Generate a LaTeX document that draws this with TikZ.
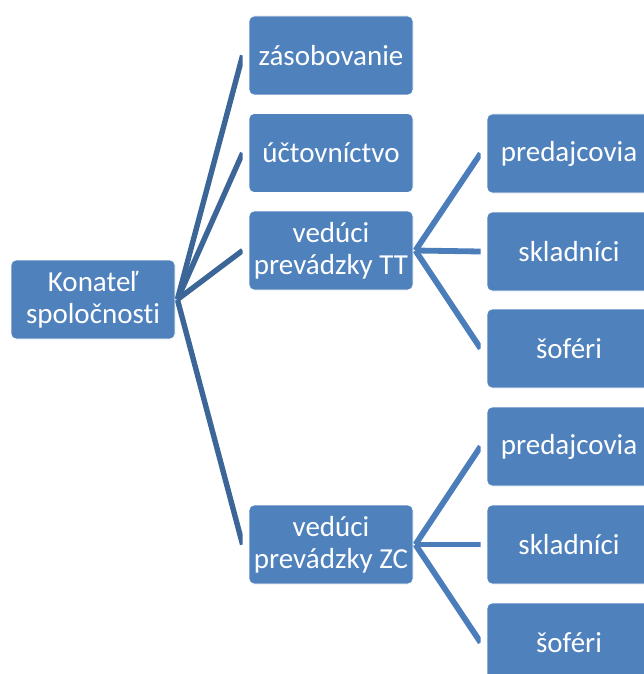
\documentclass[tikz,border=0pt]{standalone}
\usepackage{fontspec}
\setmainfont{Carlito}[Ligatures={NoCommon}]
\definecolor{boxblue}{HTML}{4F81BD}
\definecolor{lineA}{HTML}{3C6698}
\definecolor{lineB}{HTML}{4A7DBA}
\begin{document}
\begin{tikzpicture}[x=1pt,y=-1pt,
  orgbox/.style={rectangle, rounded corners=5pt, fill=boxblue, draw=white, line width=0.8pt,
    minimum width=164pt, minimum height=79pt, inner sep=0pt, align=center, text=white,
    font=\fontsize{29}{32}\selectfont},
  linkA/.style={draw=lineA, line width=5.4pt},
  linkB/.style={draw=lineB, line width=5.8pt}]
\useasboundingbox (0,0) rectangle (644,674);
\node[orgbox] (k) at (93,299.5) {Konateľ\\spoločnosti};
\node[orgbox] (z) at (331,55.5) {zásobovanie};
\node[orgbox] (u) at (331,153) {účtovníctvo};
\node[orgbox] (tt) at (331,250.5) {vedúci\\prevádzky TT};
\node[orgbox] (zc) at (331,544.5) {vedúci\\prevádzky ZC};
\node[orgbox] (p1) at (569,153.5) {predajcovia};
\node[orgbox] (s1) at (569,251.5) {skladníci};
\node[orgbox] (f1) at (569,348.5) {šoféri};
\node[orgbox] (p2) at (569,446.5) {predajcovia};
\node[orgbox] (s2) at (569,544.5) {skladníci};
\node[orgbox] (f2) at (569,642.5) {šoféri};
\coordinate (kz) at ([xshift=-6pt]z.west);
\coordinate (ku) at ([xshift=-6pt]u.west);
\coordinate (ktt) at ([xshift=-6pt]tt.west);
\coordinate (kzc) at ([xshift=-6pt]zc.west);
\coordinate (k0) at ([xshift=2pt]k.east);
\begin{scope}
\clip (k.east |- 0,0) rectangle (kzc |- 0,674);
\draw[linkA] (k0) -- (kz);
\draw[linkA] (k0) -- (ku);
\draw[linkA] (k0) -- (ktt);
\draw[linkA] (k0) -- (kzc);
\end{scope}
\coordinate (ap1) at ([xshift=-6pt]p1.west);
\coordinate (as1) at ([xshift=-6pt]s1.west);
\coordinate (af1) at ([xshift=-6pt]f1.west);
\coordinate (ap2) at ([xshift=-6pt]p2.west);
\coordinate (as2) at ([xshift=-6pt]s2.west);
\coordinate (af2) at ([xshift=-6pt]f2.west);
\coordinate (t0) at ([xshift=2pt]tt.east);
\coordinate (c0) at ([xshift=2pt]zc.east);
\begin{scope}
\clip (tt.east |- 0,0) rectangle (ap1 |- 0,674);
\draw[linkB] (t0) -- (ap1);
\draw[linkB] (t0) -- (as1);
\draw[linkB] (t0) -- (af1);
\draw[linkB] (c0) -- (ap2);
\draw[linkB] (c0) -- (as2);
\draw[linkB] (c0) -- (af2);
\end{scope}
\end{tikzpicture}
\end{document}
